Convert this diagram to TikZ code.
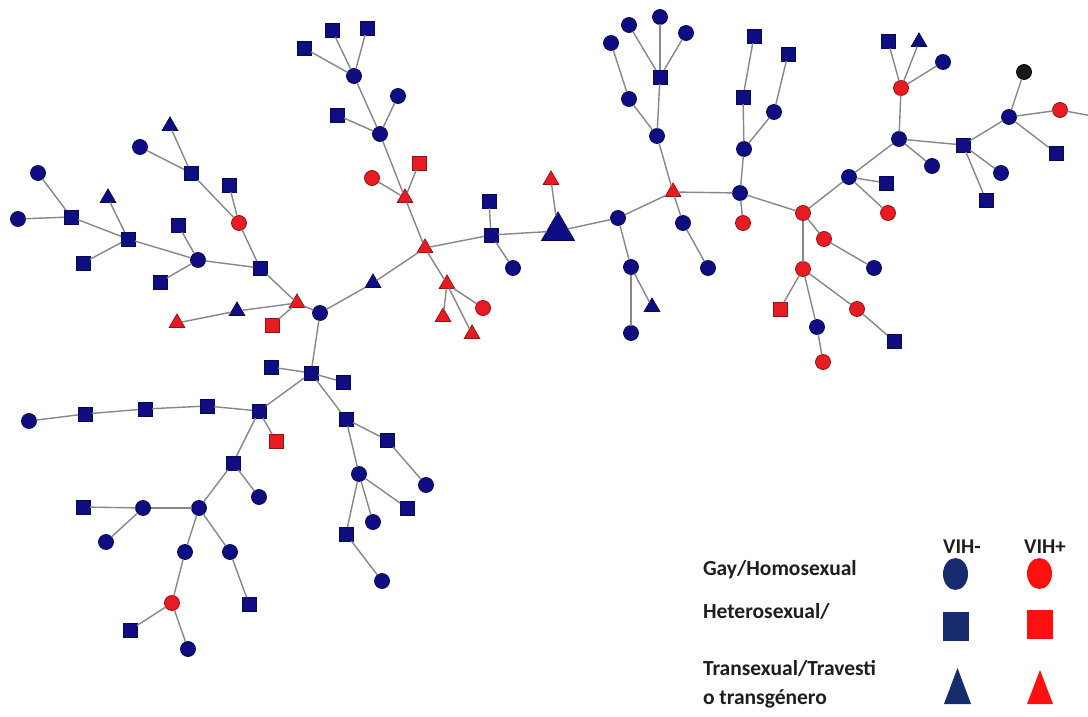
\documentclass[tikz,border=0pt]{standalone}
\usepackage{fontspec}
\setmainfont{Carlito}
\usetikzlibrary{shapes.geometric}
\definecolor{navy}{RGB}{14,14,130}
\definecolor{navyline}{RGB}{8,8,85}
\definecolor{hred}{RGB}{232,26,34}
\definecolor{hredline}{RGB}{150,18,18}
\definecolor{edgegray}{RGB}{135,135,135}
\definecolor{legblue}{RGB}{22,44,110}
\definecolor{legred}{RGB}{255,16,16}
\definecolor{txt}{RGB}{30,30,30}
\begin{document}
\begin{tikzpicture}[x=1pt,y=-1pt,
  every node/.style={inner sep=0pt, outer sep=0pt},
  vtx/.style={draw, line width=0.8pt},
  bcirc/.style={vtx, circle, minimum size=15pt, fill=navy, draw=navyline},
  rcirc/.style={vtx, circle, minimum size=15pt, fill=hred, draw=hredline},
  kcirc/.style={vtx, circle, minimum size=15pt, fill=black!90, draw=black},
  bsq/.style={vtx, rectangle, minimum size=14pt, fill=navy, draw=navyline},
  rsq/.style={vtx, rectangle, minimum size=14pt, fill=hred, draw=hredline},
  btri/.style={vtx, regular polygon, regular polygon sides=3, minimum size=18pt, fill=navy, draw=navyline},
  rtri/.style={vtx, regular polygon, regular polygon sides=3, minimum size=18pt, fill=hred, draw=hredline},
  link/.style={draw=edgegray, line width=1.4pt},
  legtext/.style={anchor=base west, text=txt, font=\fontsize{21.5pt}{22pt}\selectfont\bfseries},
  headtext/.style={anchor=base, text=txt, font=\fontsize{21pt}{22pt}\selectfont\bfseries}
]
\useasboundingbox (0,0) rectangle (1088,717);
\fill[white] (0,0) rectangle (1088,717);

% ---- left branch
\node[bcirc] (a1) at (38,173) {};
\node[bcirc] (a2) at (18,219) {};
\node[bsq]   (a3) at (71,217) {};
\node[btri]  (a4) at (108,198) {};
\node[bsq]   (a5) at (128,239) {};
\node[bsq]   (a6) at (83,263) {};
\node[bsq]   (a7) at (178,225) {};
\node[bcirc] (a8) at (198,260) {};
\node[bsq]   (a9) at (160,282) {};
\node[bsq]   (a10) at (260,268) {};
\node[btri]  (a11) at (170,126) {};
\node[bcirc] (a12) at (140,147) {};
\node[bsq]   (a13) at (191,173) {};
\node[bsq]   (a14) at (229,185) {};
\node[rcirc] (a15) at (239,223) {};
\node[rtri]  (a16) at (297,303) {};
\node[btri]  (a17) at (237,311) {};
\node[rtri]  (a18) at (177,323) {};
\node[rsq]   (a19) at (272,325) {};
\node[bcirc] (h1) at (320,313) {};

% ---- upper middle branch
\node[bsq]   (b1) at (304,48) {};
\node[bsq]   (b2) at (332,30) {};
\node[bsq]   (b3) at (367,28) {};
\node[bcirc] (b4) at (354,76) {};
\node[bcirc] (b5) at (398,96) {};
\node[bsq]   (b6) at (337,115) {};
\node[bcirc] (b7) at (380,134) {};
\node[rsq]   (b8) at (419,163) {};
\node[rcirc] (b9) at (372,178) {};
\node[rtri]  (b10) at (405,198) {};
\node[rtri]  (b11) at (425,248) {};
\node[btri]  (b12) at (373,283) {};
\node[rtri]  (b13) at (447,284) {};
\node[rtri]  (b14) at (443,317) {};
\node[rtri]  (b15) at (472,334) {};
\node[rcirc] (b16) at (483,308) {};
\node[bsq]   (b17) at (489,201) {};
\node[bsq]   (b18) at (491,235) {};
\node[bcirc] (b19) at (513,268) {};
\node[btri, minimum size=38pt] (bt) at (558,231) {};
\node[rtri]  (b21) at (551,180) {};

% ---- right middle branch
\node[bcirc] (c1) at (618,218) {};
\node[bcirc] (c2) at (631,267) {};
\node[bcirc] (c3) at (631,333) {};
\node[btri]  (c4) at (652,307) {};
\node[rtri]  (c5) at (673,192) {};
\node[bcirc] (c6) at (683,223) {};
\node[bcirc] (c7) at (708,268) {};
\node[bcirc] (c8) at (657,136) {};
\node[bcirc] (c9) at (629,99) {};
\node[bcirc] (c10) at (611,43) {};
\node[bsq]   (c11) at (660,77) {};
\node[bcirc] (c12) at (629,25) {};
\node[bcirc] (c13) at (660,17) {};
\node[bcirc] (c14) at (686,33) {};
\node[bcirc] (c15) at (740,193) {};
\node[rcirc] (c16) at (743,223) {};
\node[bcirc] (c17) at (744,149) {};
\node[bsq]   (c18) at (743,97) {};
\node[bsq]   (c19) at (754,36) {};
\node[bcirc] (c20) at (774,112) {};
\node[bsq]   (c21) at (788,54) {};
\node[rcirc] (c22) at (803,213) {};
\node[bcirc] (c23) at (849,177) {};
\node[bsq]   (c24) at (886,183) {};
\node[rcirc] (c25) at (888,213) {};
\node[rcirc] (c26) at (824,239) {};
\node[bcirc] (c27) at (874,268) {};
\node[rcirc] (c28) at (803,269) {};
\node[rsq]   (c29) at (780,309) {};
\node[bcirc] (c30) at (817,327) {};
\node[rcirc] (c31) at (823,362) {};
\node[rcirc] (c32) at (857,309) {};
\node[bsq]   (c33) at (894,341) {};

% ---- far right branch
\node[bcirc] (d1) at (899,139) {};
\node[rcirc] (d2) at (901,88) {};
\node[bsq]   (d3) at (888,41) {};
\node[btri]  (d4) at (919,42) {};
\node[bcirc] (d5) at (943,62) {};
\node[bcirc] (d6) at (932,166) {};
\node[bsq]   (d7) at (963,145) {};
\node[bcirc] (d8) at (1001,173) {};
\node[bsq]   (d9) at (986,200) {};
\node[bcirc] (d10) at (1009,117) {};
\node[kcirc] (d11) at (1024,72) {};
\node[rcirc] (d12) at (1060,110) {};
\node[bsq]   (d13) at (1056,153) {};
\coordinate (dout) at (1092,116);

% ---- lower branch
\node[bsq]   (e1) at (311,373) {};
\node[bsq]   (e2) at (271,367) {};
\node[bsq]   (e3) at (343,382) {};
\node[bsq]   (e4) at (346,419) {};
\node[bsq]   (e5) at (387,440) {};
\node[bcirc] (e6) at (426,485) {};
\node[bcirc] (e7) at (359,474) {};
\node[bsq]   (e8) at (407,508) {};
\node[bcirc] (e9) at (373,522) {};
\node[bsq]   (e10) at (346,534) {};
\node[bcirc] (e11) at (382,581) {};
\node[bsq]   (e12) at (259,411) {};
\node[bsq]   (e13) at (207,406) {};
\node[bsq]   (e14) at (145,409) {};
\node[bsq]   (e15) at (85,414) {};
\node[bcirc] (e16) at (29,421) {};
\node[rsq]   (e17) at (276,441) {};
\node[bsq]   (e18) at (233,463) {};
\node[bcirc] (e19) at (259,497) {};
\node[bcirc] (e20) at (199,508) {};
\node[bcirc] (e21) at (143,508) {};
\node[bsq]   (e22) at (83,507) {};
\node[bcirc] (e23) at (106,542) {};
\node[bcirc] (e24) at (185,552) {};
\node[bcirc] (e25) at (230,552) {};
\node[rcirc] (e26) at (172,603) {};
\node[bsq]   (e27) at (249,604) {};
\node[bsq]   (e28) at (130,630) {};
\node[bcirc] (e29) at (188,649) {};

% ---- links
\foreach \u/\v in {a1/a3, a2/a3, a3/a5, a4/a5, a6/a5, a5/a8, a7/a8, a9/a8, a8/a10,
    a11/a13, a12/a13, a13/a15, a14/a15, a15/a10, a10/a16, a18/a17, a17/a16, a19/a16, a16/h1,
    b1/b4, b2/b4, b3/b4, b4/b7, b5/b7, b6/b7, b7/b10, b9/b10, b8/b10, b10/b11, b11/b18,
    b17/b18, b18/b19, b18/bt, b21/bt, b11/b12, b12/h1, b11/b13, b13/b14, b13/b15, b13/b16,
    bt/c1, c1/c2, c2/c3, c2/c4, c1/c5, c5/c8, c8/c9, c9/c10, c8/c11, c11/c12, c11/c13, c11/c14,
    c5/c6, c6/c7, c5/c15, c15/c16, c15/c17, c17/c18, c18/c19, c17/c20, c20/c21, c15/c22,
    c22/c23, c23/c24, c23/c25, c22/c26, c26/c27, c22/c28, c28/c29, c28/c30, c30/c31, c28/c32, c32/c33,
    c23/d1, d1/d2, d2/d3, d2/d4, d2/d5, d1/d6, d1/d7, d7/d8, d7/d9, d7/d10, d10/d11, d10/d12,
    d12/dout, d10/d13,
    h1/e1, e1/e2, e1/e3, e1/e4, e4/e5, e5/e6, e4/e7, e7/e8, e7/e9, e7/e10, e10/e11,
    e1/e12, e12/e13, e13/e14, e14/e15, e15/e16, e12/e17, e12/e18, e18/e19, e18/e20,
    e20/e21, e21/e22, e21/e23, e20/e24, e24/e26, e20/e25, e25/e27, e26/e28, e26/e29}
  \draw[link] (\u) -- (\v);

% ---- legend
\node[headtext] (hneg) at (962,553) {VIH-};
\node[headtext] (hpos) at (1045,553) {VIH+};
\node[legtext] (lgay) at (703,575) {Gay/Homosexual};
\node[legtext] (lhet) at (703,618) {Heterosexual/};
\node[legtext] (ltra) at (703,675) {Transexual/Travesti};
\node[legtext] (ltrb) at (703,704) {o transgénero};

\node[ellipse, fill=legblue, minimum width=25pt, minimum height=32pt] (kbc) at (955.5,574) {};
\node[ellipse, fill=legred, minimum width=25pt, minimum height=31pt] (krc) at (1039.5,573.5) {};
\node[rectangle, fill=legblue, minimum width=26pt, minimum height=29pt] (kbs) at (956,626.5) {};
\node[rectangle, fill=legred, minimum width=26pt, minimum height=29pt] (krs) at (1040,624.5) {};
\fill[legblue] (957.5,668) -- (971,704) -- (944,704) -- cycle;
\fill[legred] (1040,670) -- (1053,704) -- (1027,704) -- cycle;
\end{tikzpicture}
\end{document}
